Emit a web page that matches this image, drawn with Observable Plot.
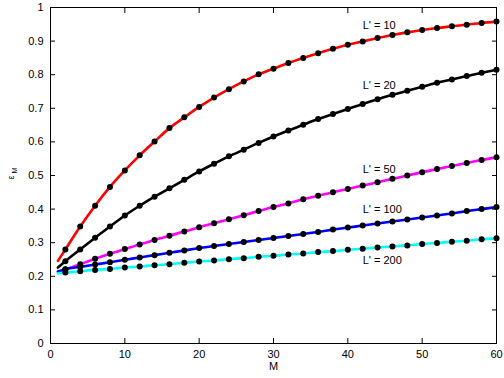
<!DOCTYPE html>
<html>
<head>
<meta charset="utf-8">
<script src="https://cdn.jsdelivr.net/npm/d3@7"></script>
<script src="https://cdn.jsdelivr.net/npm/@observablehq/plot@0.6"></script>
<style>
  html, body { margin: 0; padding: 0; background: #fff; }
  #chart { width: 504px; height: 378px; }
</style>
</head>
<body>
<div id="chart"></div>
<script>
// Marker positions (M values) and axis ticks
const M = [2, 4, 6, 8, 10, 12, 14, 16, 18, 20, 22, 24, 26, 28, 30,
           32, 34, 36, 38, 40, 42, 44, 46, 48, 50, 52, 54, 56, 58, 60];
const xTicks = [0, 10, 20, 30, 40, 50, 60];
const yTicks = [0, 0.1, 0.2, 0.3, 0.4, 0.5, 0.6, 0.7, 0.8, 0.9, 1];

// Series names and colours
const series = ["L' = 10", "L' = 20", "L' = 50", "L' = 100", "L' = 200"];
const colors = ["#ff0000", "#000000", "#ff00ff", "#0000ff", "#00ffff"];

// Curve start values (M = 1)
const startM = 1;
const startVals = [0.246, 0.226, 0.213, 0.214, 0.209];

// Values at the markers
const eps10 = [0.280, 0.348, 0.410, 0.466, 0.515, 0.560, 0.601, 0.641, 0.673, 0.704,
               0.732, 0.757, 0.780, 0.801, 0.818, 0.835, 0.850, 0.864, 0.877, 0.889,
               0.899, 0.909, 0.918, 0.926, 0.933, 0.939, 0.944, 0.949, 0.954, 0.958];
const eps20 = [0.245, 0.280, 0.315, 0.348, 0.381, 0.410, 0.437, 0.462, 0.487, 0.512,
               0.535, 0.557, 0.577, 0.597, 0.616, 0.634, 0.651, 0.668, 0.683, 0.698,
               0.713, 0.727, 0.740, 0.752, 0.764, 0.776, 0.786, 0.796, 0.806, 0.815];
const eps50 = [0.220, 0.236, 0.252, 0.267, 0.281, 0.295, 0.308, 0.321, 0.333, 0.346,
               0.358, 0.370, 0.382, 0.394, 0.406, 0.417, 0.429, 0.440, 0.450, 0.460,
               0.470, 0.480, 0.490, 0.500, 0.510, 0.519, 0.528, 0.537, 0.546, 0.554];
const eps100 = [0.221, 0.228, 0.235, 0.242, 0.249, 0.256, 0.263, 0.270, 0.277, 0.284,
                0.290, 0.296, 0.302, 0.308, 0.314, 0.320, 0.326, 0.332, 0.339, 0.345,
                0.351, 0.357, 0.363, 0.369, 0.375, 0.381, 0.387, 0.394, 0.400, 0.406];
const eps200 = [0.211, 0.215, 0.219, 0.222, 0.226, 0.229, 0.233, 0.236, 0.240, 0.244,
                0.247, 0.251, 0.254, 0.258, 0.261, 0.265, 0.268, 0.272, 0.275, 0.279,
                0.282, 0.286, 0.289, 0.292, 0.296, 0.299, 0.303, 0.306, 0.310, 0.313];

// Label anchor (in data units)
const labelM = 42;
const labelY = [0.946, 0.768, 0.517, 0.398, 0.247];

const allVals = [eps10, eps20, eps50, eps100, eps200];

const dotRows = [];
const lineRows = [];
series.forEach((s, i) => {
  lineRows.push({s, M: startM, e: startVals[i]});
  M.forEach((m, j) => {
    lineRows.push({s, M: m, e: allVals[i][j]});
    dotRows.push({s, M: m, e: allVals[i][j]});
  });
});
const labelRows = series.map((s, i) => ({s, M: labelM, e: labelY[i]}));

const fmt = d => String(+d.toFixed(1));
const blank = () => "";

const chart = Plot.plot({
  width: 504,
  height: 378,
  marginLeft: 50,
  marginRight: 8,
  marginTop: 7,
  marginBottom: 35,
  style: {fontFamily: "'Liberation Sans', Arial, Helvetica, sans-serif", fontSize: "11px", background: "white", color: "black"},
  x: {domain: [0, 60]},
  y: {domain: [0, 1]},
  color: {domain: series, range: colors},
  marks: [
    Plot.line(lineRows, {x: "M", y: "e", z: "s", stroke: "s", strokeWidth: 2.6, curve: "monotone-x"}),
    Plot.dot(dotRows, {x: "M", y: "e", r: 3, fill: "black", stroke: "none"}),
    Plot.text(labelRows, {x: "M", y: "e", text: "s", textAnchor: "start", fontSize: 11, fill: "black"}),
    Plot.frame({stroke: "black", strokeWidth: 1}),
    Plot.axisX({anchor: "bottom", ticks: xTicks, tickSize: 0, tickPadding: 7, tickFormat: d => String(d), label: null}),
    Plot.axisY({anchor: "left", ticks: yTicks, tickSize: 0, tickPadding: 7, tickFormat: fmt, label: null}),
    Plot.axisX({anchor: "bottom", ticks: xTicks, tickSize: 5, dy: -5, tickFormat: blank, label: null}),
    Plot.axisX({anchor: "top", ticks: xTicks, tickSize: 5, dy: 5, tickFormat: blank, label: null}),
    Plot.axisY({anchor: "left", ticks: yTicks, tickSize: 5, dx: 5, tickFormat: blank, label: null}),
    Plot.axisY({anchor: "right", ticks: yTicks, tickSize: 5, dx: -5, tickFormat: blank, label: null}),
    Plot.text(["M"], {x: () => 30, frameAnchor: "bottom", lineAnchor: "middle", textAnchor: "middle", dy: 23, text: d => d, fontSize: 11}),
    Plot.text(["ε"], {y: () => 0.5, frameAnchor: "left", lineAnchor: "middle", textAnchor: "middle", dx: -39, dy: 2, rotate: -90, text: d => d, fontSize: 9}),
    Plot.text(["M"], {y: () => 0.5, frameAnchor: "left", lineAnchor: "middle", textAnchor: "middle", dx: -36, dy: -5, rotate: -90, text: d => d, fontSize: 7})
  ]
});
document.getElementById("chart").appendChild(chart);
</script>
</body>
</html>
